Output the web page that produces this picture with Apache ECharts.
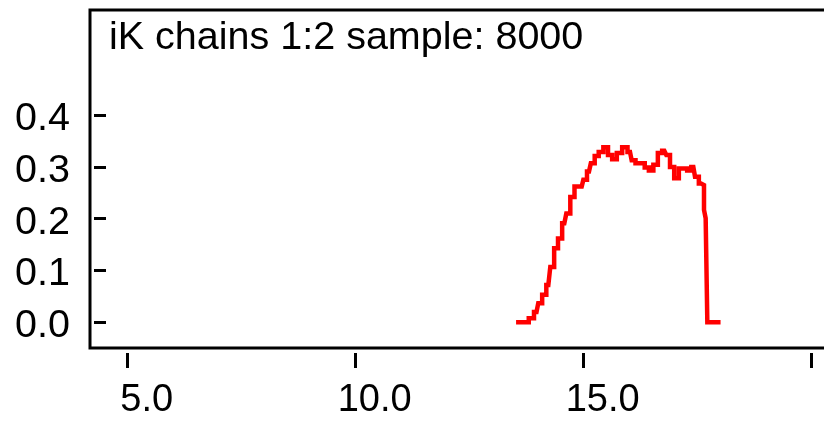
<!DOCTYPE html>
<html>
<head>
<meta charset="utf-8">
<script src="https://cdn.jsdelivr.net/npm/echarts@6/dist/echarts.min.js"></script>
<style>
html,body{margin:0;padding:0;background:#fff;}
#chart{width:824px;height:423px;}
</style>
</head>
<body>
<div id="chart"></div>
<script>
const titleText = 'iK chains 1:2 sample: 8000';
const xValues = [13.566, 13.735, 13.855, 13.965, 14.042, 14.136, 14.224, 14.311, 14.393, 14.480,
  14.575, 14.662, 14.750, 14.846, 14.956, 15.028, 15.116, 15.197, 15.285, 15.373,
  15.489, 15.577, 15.671, 15.781, 15.906, 16.015, 16.088, 16.184, 16.294, 16.382,
  16.476, 16.579, 16.673, 16.768, 16.855, 16.930, 17.039, 17.134, 17.222, 17.316,
  17.404, 17.478, 17.572, 17.638, 17.638, 17.711, 17.711, 17.952];
const densityValues = [0, 0, 0.008, 0.020, 0.037, 0.053, 0.072, 0.107, 0.143, 0.162,
  0.191, 0.210, 0.242, 0.262, 0.262, 0.275, 0.291, 0.307, 0.321, 0.329,
  0.338, 0.323, 0.315, 0.327, 0.338, 0.329, 0.313, 0.307, 0.307, 0.299,
  0.293, 0.304, 0.327, 0.331, 0.323, 0.300, 0.278, 0.297, 0.297, 0.293,
  0.300, 0.281, 0.268, 0.265, 0.217, 0.201, 0, 0];
const xTickValues = [5, 10, 15, 20];
const xLabelValues = [5, 10, 15];
const yTickValues = [0, 0.1, 0.2, 0.3, 0.4];

const fontFamily = '"Liberation Sans", Arial, sans-serif';
const chart = echarts.init(document.getElementById('chart'), null, {renderer: 'canvas'});
const seriesData = xValues.map((x, i) => [x, densityValues[i]]);

chart.setOption({
  animation: false,
  backgroundColor: '#fff',
  title: {
    text: titleText,
    left: 109,
    top: 18,
    padding: 0,
    textStyle: {fontFamily: fontFamily, fontSize: 39.5, fontWeight: 'normal', color: '#000'}
  },
  grid: {
    left: 90, top: 10, width: 800, height: 338,
    containLabel: false,
    outerBoundsMode: 'none',
    show: true, borderColor: '#000', borderWidth: 3, backgroundColor: 'transparent'
  },
  xAxis: {
    type: 'value',
    min: 4.173, max: 21.717,
    offset: 5,
    axisLine: {show: false, onZero: false},
    splitLine: {show: false},
    axisTick: {show: true, inside: false, length: 15, customValues: xTickValues,
      lineStyle: {color: '#000', width: 3}},
    axisLabel: {
      customValues: xLabelValues,
      margin: 29,
      padding: [0, 0, 0, 38],
      fontFamily: fontFamily, fontSize: 38, color: '#000',
      formatter: v => Number(v).toFixed(1)
    }
  },
  yAxis: {
    type: 'value',
    min: -0.0496, max: 0.6029,
    offset: -4,
    axisLine: {show: false, onZero: false},
    splitLine: {show: false},
    axisTick: {show: true, inside: true, length: 12, customValues: yTickValues,
      lineStyle: {color: '#000', width: 3}},
    axisLabel: {
      customValues: yTickValues,
      margin: 24,
      verticalAlign: 'top',
      lineHeight: 8,
      fontFamily: fontFamily, fontSize: 39.5, color: '#000',
      formatter: v => Number(v).toFixed(1)
    }
  },
  series: [{
    type: 'line',
    data: seriesData,
    step: 'middle',
    showSymbol: false,
    symbol: 'none',
    lineStyle: {color: '#ff0000', width: 4.5, join: 'miter', cap: 'square'}
  }]
});
</script>
</body>
</html>
